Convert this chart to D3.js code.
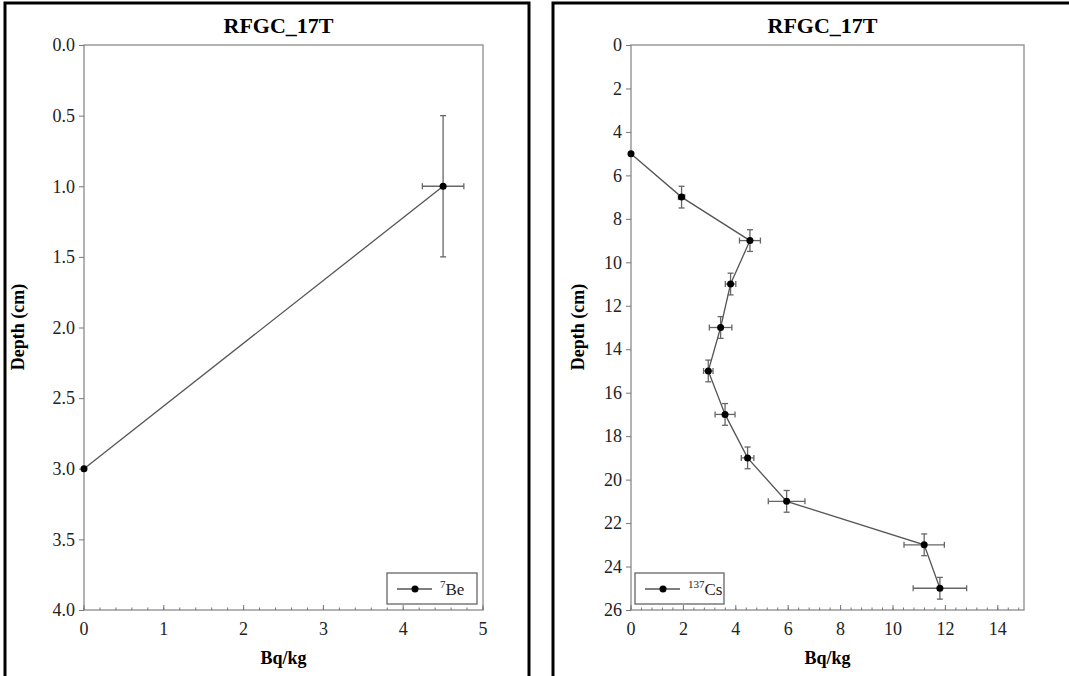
<!DOCTYPE html>
<html>
<head>
<meta charset="utf-8">
<script src="https://cdn.jsdelivr.net/npm/d3@7"></script>
<style>
  body { margin: 0; background: #fff; }
</style>
</head>
<body>
<svg id="chart" width="1069" height="676" font-family="'Liberation Serif', 'Times New Roman', serif"></svg>
<script>
const serif = "'Liberation Serif', 'Times New Roman', serif"

// Be-7 profile
const beDepth = [3.0, 1.0]
const beValue = [0, 4.5]
const beErrX = [0, 0.26]
const beErrY = [0, 0.5]
const beTicksY = [0, 0.5, 1.0, 1.5, 2.0, 2.5, 3.0, 3.5, 4.0]
const beTicksX = [0, 1, 2, 3, 4, 5]

// Cs-137 profile
const csDepth = [5, 7, 9, 11, 13, 15, 17, 19, 21, 23, 25]
const csValue = [0, 1.93, 4.54, 3.8, 3.42, 2.95, 3.59, 4.45, 5.94, 11.19, 11.79]
const csErrX = [0, 0.12, 0.4, 0.2, 0.43, 0.18, 0.38, 0.24, 0.7, 0.77, 1.02]
const csErrY = [0, 0.5, 0.5, 0.5, 0.5, 0.5, 0.5, 0.5, 0.5, 0.5, 0.5]
const csTicksY = [0, 2, 4, 6, 8, 10, 12, 14, 16, 18, 20, 22, 24, 26]
const csTicksX = [0, 2, 4, 6, 8, 10, 12, 14]

const svg = d3.select("#chart")

function drawPanel (cfg) {
  const g = svg.append("g").attr("font-family", serif)

  // black frame round the panel
  g.append("rect")
    .attr("x", cfg.frame[0]).attr("y", 3)
    .attr("width", cfg.frame[1] - cfg.frame[0]).attr("height", 700)
    .attr("fill", "none").attr("stroke", "#000").attr("stroke-width", 3)

  const x = d3.scaleLinear().domain(cfg.xDomain).range([cfg.left, cfg.right])
  const y = d3.scaleLinear().domain(cfg.yDomain).range([45, 610])

  // plot box
  g.append("rect")
    .attr("x", cfg.left).attr("y", 45)
    .attr("width", cfg.right - cfg.left).attr("height", 565)
    .attr("fill", "none").attr("stroke", "#8a8a8a").attr("stroke-width", 1.3)

  // y axis
  const yAxis = g.append("g").attr("transform", `translate(${cfg.left},0)`)
    .call(d3.axisLeft(y).tickValues(cfg.ticksY).tickFormat(cfg.yFmt).tickSize(5).tickPadding(4))
  yAxis.attr("font-family", serif).attr("font-size", 18)
  yAxis.select(".domain").remove()
  yAxis.selectAll("line").attr("stroke", "#777")
  yAxis.selectAll("text").attr("font-family", serif).attr("font-size", 18).attr("fill", "#222")

  // x axis: minor ticks inside, labels below
  const minor = d3.range(cfg.xDomain[0], cfg.xDomain[1] + 1e-9, cfg.minorStep)
  g.append("g").selectAll("line").data(minor).join("line")
    .attr("x1", d => x(d)).attr("x2", d => x(d))
    .attr("y1", 610).attr("y2", 607.5)
    .attr("stroke", "#777")
  g.append("g").selectAll("line").data(cfg.ticksX).join("line")
    .attr("x1", d => x(d)).attr("x2", d => x(d))
    .attr("y1", 610).attr("y2", 605)
    .attr("stroke", "#777")
  g.append("g").selectAll("text").data(cfg.ticksX).join("text")
    .attr("x", d => x(d)).attr("y", 635)
    .attr("text-anchor", "middle").attr("font-size", 18).attr("fill", "#222")
    .text(d => d)

  // titles
  g.append("text")
    .attr("x", (cfg.left + cfg.right) / 2 - 5).attr("y", 33)
    .attr("text-anchor", "middle").attr("font-size", 22).attr("font-weight", "bold")
    .text("RFGC_17T")
  g.append("text")
    .attr("x", (cfg.left + cfg.right) / 2).attr("y", 664)
    .attr("text-anchor", "middle").attr("font-size", 18).attr("font-weight", "bold")
    .text("Bq/kg")
  g.append("text")
    .attr("transform", `translate(${cfg.yTitleX},327) rotate(-90)`)
    .attr("text-anchor", "middle").attr("font-size", 18).attr("font-weight", "bold")
    .text("Depth (cm)")

  const pts = cfg.depth.map((dp, i) => ({ d: dp, v: cfg.value[i], ex: cfg.errX[i], ey: cfg.errY[i] }))

  // connecting line
  g.append("path")
    .datum(pts)
    .attr("d", d3.line().x(p => x(p.v)).y(p => y(p.d)))
    .attr("fill", "none").attr("stroke", "#555").attr("stroke-width", 1.3)

  // error bars
  const eb = g.append("g").attr("stroke", "#666").attr("stroke-width", 1.3)
  pts.filter(p => p.ey > 0).forEach(p => {
    const cx = x(p.v)
    eb.append("line").attr("x1", cx).attr("x2", cx).attr("y1", y(p.d - p.ey)).attr("y2", y(p.d + p.ey))
    eb.append("line").attr("x1", cx - 3).attr("x2", cx + 3).attr("y1", y(p.d - p.ey)).attr("y2", y(p.d - p.ey))
    eb.append("line").attr("x1", cx - 3).attr("x2", cx + 3).attr("y1", y(p.d + p.ey)).attr("y2", y(p.d + p.ey))
  })
  pts.filter(p => p.ex > 0).forEach(p => {
    const cy = y(p.d)
    eb.append("line").attr("x1", x(p.v - p.ex)).attr("x2", x(p.v + p.ex)).attr("y1", cy).attr("y2", cy)
    eb.append("line").attr("x1", x(p.v - p.ex)).attr("x2", x(p.v - p.ex)).attr("y1", cy - 3).attr("y2", cy + 3)
    eb.append("line").attr("x1", x(p.v + p.ex)).attr("x2", x(p.v + p.ex)).attr("y1", cy - 3).attr("y2", cy + 3)
  })

  // points
  g.append("g").selectAll("circle").data(pts).join("circle")
    .attr("cx", p => x(p.v)).attr("cy", p => y(p.d)).attr("r", 3.5)
    .attr("fill", "#000")

  // legend
  const lg = g.append("g").attr("transform", `translate(${cfg.legend[0]},573)`)
  lg.append("rect").attr("width", cfg.legend[1]).attr("height", 31)
    .attr("fill", "#fff").attr("stroke", "#666").attr("stroke-width", 1.3)
  lg.append("line").attr("x1", 10).attr("x2", 45).attr("y1", 16).attr("y2", 16)
    .attr("stroke", "#555").attr("stroke-width", 1.3)
  lg.append("circle").attr("cx", 28).attr("cy", 16).attr("r", 3.5).attr("fill", "#000")
  const lt = lg.append("text").attr("x", 53).attr("y", 22).attr("font-size", 17).attr("fill", "#222")
  lt.append("tspan").attr("font-size", 11).attr("dy", -7).text(cfg.sup)
  lt.append("tspan").attr("dy", 7).text(cfg.label)
}

drawPanel({
  frame: [5, 529], left: 84, right: 483, yTitleX: 24,
  xDomain: [0, 5], yDomain: [0, 4], minorStep: 0.2,
  ticksX: beTicksX, ticksY: beTicksY, yFmt: d3.format(".1f"),
  depth: beDepth, value: beValue, errX: beErrX, errY: beErrY,
  legend: [387, 90], sup: "7", label: "Be"
})

drawPanel({
  frame: [553, 1075], left: 631, right: 1024, yTitleX: 584,
  xDomain: [0, 15], yDomain: [0, 26], minorStep: 0.4,
  ticksX: csTicksX, ticksY: csTicksY, yFmt: d3.format("d"),
  depth: csDepth, value: csValue, errX: csErrX, errY: csErrY,
  legend: [635, 89], sup: "137", label: "Cs"
})
</script>
</body>
</html>
